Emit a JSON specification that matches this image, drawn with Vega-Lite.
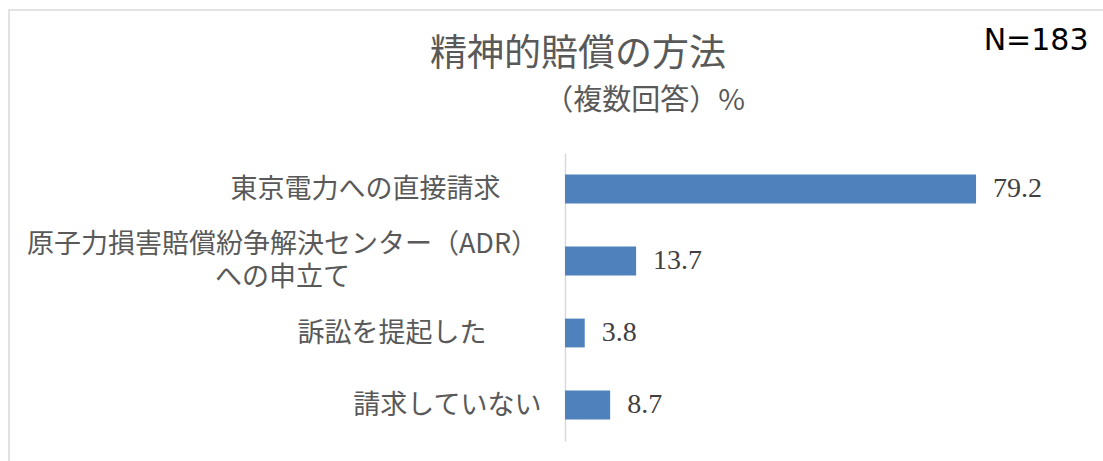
{
  "$schema": "https://vega.github.io/schema/vega-lite/v6.json",
  "width": 1099,
  "height": 456,
  "autosize": "none",
  "padding": {"left": 9, "top": 10, "right": -5, "bottom": -5},
  "background": "white",
  "config": {"view": {"stroke": "#d9d9d9", "strokeWidth": 1.5}},
  "title": {
    "text": "精神的賠償の方法",
    "font": "Noto Sans CJK JP",
    "fontSize": 37,
    "fontWeight": "normal",
    "color": "#595959",
    "anchor": "start",
    "frame": "group",
    "dx": 421,
    "offset": -64
  },
  "data": {
    "values": [
      {"方法": "東京電力への直接請求", "割合": 79.2},
      {"方法": "原子力損害賠償紛争解決センター（ADR）\nへの申立て", "割合": 13.7},
      {"方法": "訴訟を提起した", "割合": 3.8},
      {"方法": "請求していない", "割合": 8.7}
    ]
  },
  "encoding": {
    "y": {
      "field": "方法",
      "type": "nominal",
      "sort": null,
      "scale": {"range": [143, 431], "paddingInner": 0.6, "paddingOuter": 0.3},
      "axis": {
        "title": "（複数回答）%",
        "titleAngle": 0,
        "titleX": 79,
        "titleY": 90,
        "titleAlign": "center",
        "titleBaseline": "middle",
        "titleFont": "Noto Sans CJK JP",
        "titleFontSize": 29,
        "titleFontWeight": "normal",
        "titleColor": "#595959",
        "offset": -556,
        "domainColor": "#d9d9d9",
        "domainWidth": 1.5,
        "ticks": false,
        "grid": false,
        "labelFont": "Noto Sans CJK JP",
        "labelFontSize": 27,
        "labelColor": "#595959",
        "labelLineHeight": 33,
        "labelLimit": 0,
        "labelBaseline": "middle",
        "labelExpr": "split(datum.label, '\\n')",
        "labelAlign": {"condition": {"test": "indexof(datum.value, 'ADR') >= 0", "value": "center"}, "value": "right"},
        "labelOffset": {"condition": {"test": "indexof(datum.value, 'ADR') >= 0", "value": -16}, "value": 1},
        "labelPadding": {
          "condition": [
            {"test": "indexof(datum.value, 'ADR') >= 0", "value": 283},
            {"test": "datum.value === '東京電力への直接請求'", "value": 65},
            {"test": "datum.value === '訴訟を提起した'", "value": 79}
          ],
          "value": 24
        }
      }
    },
    "x": {
      "field": "割合",
      "type": "quantitative",
      "scale": {"domain": [0, 100], "range": [556, 1075]},
      "axis": {
        "orient": "top",
        "labels": false,
        "ticks": false,
        "domain": false,
        "grid": false,
        "title": "N=183",
        "titleX": 1079,
        "titleY": 30,
        "titleAlign": "right",
        "titleBaseline": "middle",
        "titleFont": "DejaVu Sans",
        "titleFontSize": 30,
        "titleFontWeight": "normal",
        "titleColor": "#000000"
      }
    }
  },
  "layer": [
    {"mark": {"type": "bar", "color": "#4F81BD"}},
    {
      "mark": {"type": "text", "align": "left", "baseline": "middle", "dx": 17, "font": "Liberation Serif", "fontSize": 28, "color": "#404040"},
      "encoding": {"text": {"field": "割合", "type": "quantitative", "format": ".1f"}}
    }
  ]
}
